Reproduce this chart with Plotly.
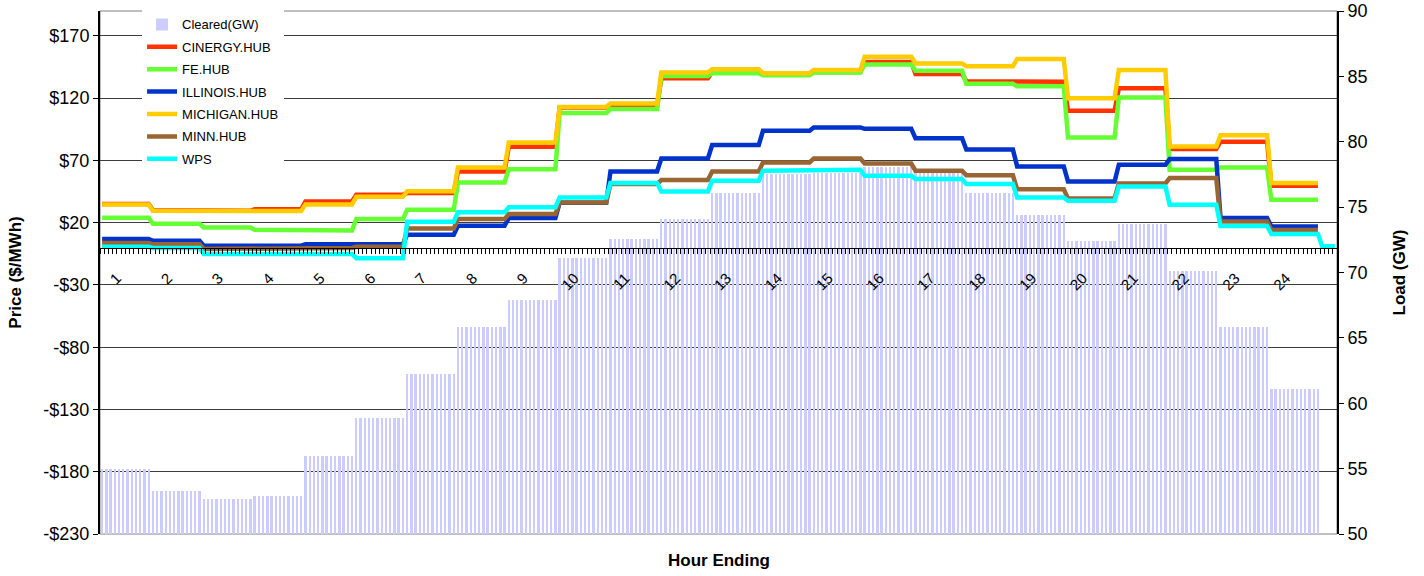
import numpy as np
import plotly.graph_objects as go

# ---------------- data (hourly levels) ----------------
hours = list(range(1, 25))
intervals_per_hour = 12  # 5-minute intervals

load_gw = [55.0, 53.3, 52.7, 52.9, 56.0, 58.9, 62.2, 65.8, 67.9, 71.1, 72.6, 74.1,
           76.1, 77.55, 77.6, 78.1, 77.6, 76.1, 74.4, 72.4, 73.7, 70.1, 65.8, 61.1]

cinergy = [35.0, 30.0, 29.5, 30.7, 37.1, 42.5, 43.8, 61.1, 81.0, 112.5, 113.5, 136.0,
           141.0, 139.5, 141.0, 149.0, 139.5, 133.6, 133.1, 109.8, 128.0, 79.1, 85.0, 49.7]
fe = [24.0, 19.2, 16.2, 14.4, 13.8, 22.9, 30.4, 52.3, 63.0, 108.0, 111.2, 137.9,
      140.1, 138.5, 140.6, 147.0, 142.0, 131.5, 129.5, 88.4, 120.5, 62.5, 64.4, 38.4]
illinois = [6.9, 5.5, 1.5, 1.5, 2.6, 2.6, 10.3, 17.6, 23.7, 36.0, 61.1, 71.6,
            82.3, 93.8, 96.5, 95.4, 87.9, 78.7, 65.2, 53.1, 66.5, 71.1, 23.7, 17.0]
michigan = [34.7, 29.6, 29.1, 29.4, 34.7, 40.8, 45.3, 64.4, 84.4, 113.0, 115.7, 140.6,
            143.3, 140.1, 142.7, 153.3, 147.8, 145.7, 151.5, 120.0, 142.7, 81.2, 90.3, 51.8]
minn = [3.7, 2.6, -1.1, -0.9, -0.3, 0.7, 15.3, 22.9, 27.0, 36.3, 51.0, 54.2,
        61.1, 68.4, 71.6, 67.5, 61.7, 58.0, 46.8, 39.5, 51.5, 55.8, 21.0, 14.1]
wps = [0.7, -0.3, -5.1, -5.7, -5.1, -8.6, 20.8, 28.3, 32.3, 40.3, 51.8, 45.1,
       53.7, 61.7, 62.5, 57.7, 55.0, 51.0, 40.3, 37.6, 49.1, 34.4, 17.3, 10.9]
wps_tail = [1.0, 1.0, 1.0, 1.0]  # extra 5-min points after hour 24

series_names = ["CINERGY.HUB", "FE.HUB", "ILLINOIS.HUB", "MICHIGAN.HUB", "MINN.HUB", "WPS"]
series_colors = ["#ff3300", "#66ff33", "#0033cc", "#ffcc00", "#996633", "#00ffff"]

price_ticks = [-230, -180, -130, -80, -30, 20, 70, 120, 170]
price_tick_labels = ["-$230", "-$180", "-$130", "-$80", "-$30", "$20", "$70", "$120", "$170"]
load_ticks = [50, 55, 60, 65, 70, 75, 80, 85, 90]
hour_labels = [str(h) for h in hours]

# ---------------- build ----------------
def expand(values):
    return np.repeat(np.asarray(values, dtype=float), intervals_per_hour)

n_main = len(hours) * intervals_per_hour
n_all = n_main + len(wps_tail)
x_main = np.arange(n_main)
x_all = np.arange(n_all)

FONT = "Arial, Liberation Sans, sans-serif"

fig = go.Figure()
fig.add_trace(go.Bar(
    x=x_main, y=expand(load_gw), width=0.55,
    marker=dict(color="#ccccff", line=dict(width=0)),
    name="Cleared(GW)", yaxis="y", legendgroup="g0",
))

all_series = [cinergy, fe, illinois, michigan, minn, wps]
for k, (name, color, vals) in enumerate(zip(series_names, series_colors, all_series)):
    y = expand(vals)
    x = x_main
    if name == "WPS":
        y = np.concatenate([y, np.asarray(wps_tail, dtype=float)])
        x = x_all
    fig.add_trace(go.Scatter(
        x=x, y=y, mode="lines", name=name,
        line=dict(color=color, width=4.5),
        yaxis="y2", legendgroup=f"g{k+1}",
    ))

# category-boundary ticks with hour labels
label_offset = 4
tickvals = list(np.arange(n_all + 1) - 0.5)
ticktext = [""] * len(tickvals)
for h, lab in zip(hours, hour_labels):
    ticktext[(h - 1) * intervals_per_hour + label_offset] = lab

price_min, price_max = -230, 190

fig.update_layout(
    width=1424, height=576,
    margin=dict(l=100, r=87, t=11, b=42, autoexpand=False),
    paper_bgcolor="white", plot_bgcolor="white",
    font=dict(family=FONT, color="black"),
    bargap=0,
    showlegend=True,
    legend=dict(x=0.034, y=1.003, xanchor="left", yanchor="top",
                bgcolor="white", borderwidth=0, font=dict(size=13, family=FONT),
                tracegroupgap=2.5, itemwidth=30),
    xaxis=dict(
        range=[-0.5, n_all - 0.5], anchor="free",
        position=(0 - price_min) / (price_max - price_min),
        showline=True, linecolor="black", linewidth=1,
        ticks="outside", ticklen=5, tickcolor="black", tickwidth=1,
        tickmode="array", tickvals=tickvals, ticktext=ticktext,
        tickangle=-45, tickfont=dict(size=15, family=FONT), ticklabelstandoff=10,
        showgrid=False, zeroline=False, layer="above traces", automargin=False,
    ),
    yaxis=dict(
        side="right", range=[50, 90], tickmode="array", tickvals=load_ticks,
        ticks="outside", ticklen=5, tickcolor="black",
        showline=True, linecolor="black", linewidth=2,
        showgrid=False, zeroline=False, tickfont=dict(size=18, family=FONT),
        automargin=False,
        title=dict(text="<b>Load (GW)</b>", font=dict(size=17, family=FONT), standoff=26),
    ),
    yaxis2=dict(
        overlaying="y", side="left", range=[price_min, price_max],
        tickmode="array", tickvals=price_ticks, ticktext=price_tick_labels,
        ticks="outside", ticklen=5, tickcolor="black",
        showline=True, linecolor="black", linewidth=2,
        showgrid=True, gridcolor="#3c3c3c", gridwidth=1, zeroline=False,
        tickfont=dict(size=18, family=FONT), automargin=False,
        title=dict(text="<b>Price ($/MWh)</b>", font=dict(size=17, family=FONT), standoff=17),
    ),
    shapes=[dict(type="rect", xref="x domain", yref="y domain", x0=0, x1=1, y0=0, y1=1,
                 line=dict(color="#808080", width=1), layer="below")],
    annotations=[dict(text="<b>Hour Ending</b>", xref="paper", yref="paper",
                      x=0.5, y=-0.05, xanchor="center", yanchor="middle",
                      showarrow=False, font=dict(size=17, family=FONT))],
)

fig.write_html("out.html", config={"displayModeBar": False},
               post_script="document.body.style.margin='0';")
